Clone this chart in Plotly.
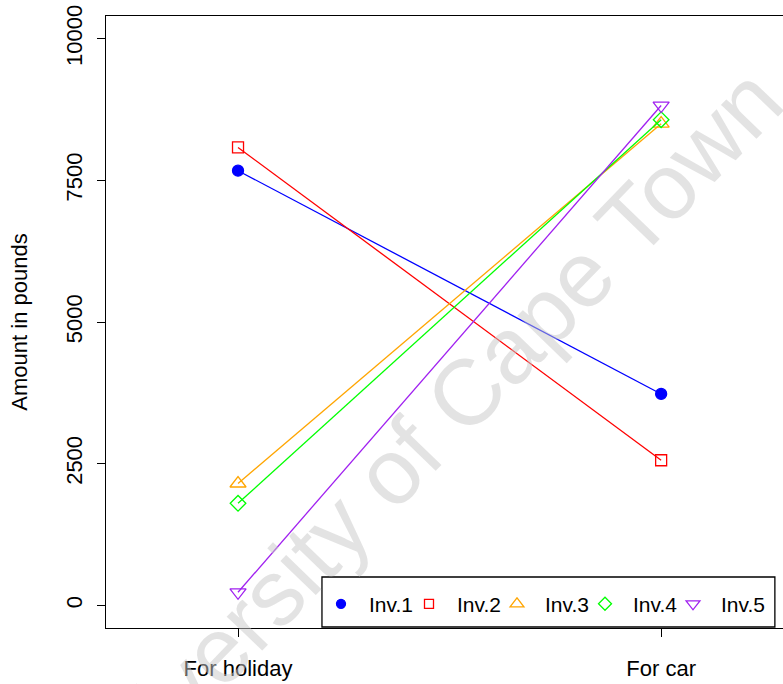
import plotly.graph_objects as go

# Spending categories on the x axis
categories = ["For holiday", "For car"]
cat_pos = [1, 2]

# Amounts (pounds) for each investor
inv1 = [7670, 3730]
inv2 = [8080, 2560]
inv3 = [2150, 8500]
inv4 = [1800, 8570]
inv5 = [230, 8820]

series_names = ["Inv.1", "Inv.2", "Inv.3", "Inv.4", "Inv.5"]
series_values = [inv1, inv2, inv3, inv4, inv5]
series_colors = ["#0000FF", "#FF0000", "#FFA500", "#00FF00", "#A020F0"]
series_symbols = ["circle", "square-open", "triangle-up-open", "diamond-open", "triangle-down-open"]
series_sizes = [11, 11, 14, 12, 14]

y_ticks = [0, 2500, 5000, 7500, 10000]

FONT = "Liberation Sans, Arial, Helvetica, sans-serif"

# plot area geometry in pixels (used to place the legend entries)
L_MARGIN, PLOT_W = 106, 677
ENTRY_START, ENTRY_STEP = 313, 88

fig = go.Figure()

legend_ids = ["legend"] + [f"legend{i}" for i in range(2, len(series_names) + 1)]

for name, vals, col, sym, sz, lid in zip(series_names, series_values, series_colors,
                                         series_symbols, series_sizes, legend_ids):
    fig.add_trace(go.Scatter(
        x=cat_pos, y=vals, mode="lines+markers", name=name,
        line=dict(color=col, width=1.3),
        marker=dict(symbol=sym, size=sz, color=col, line=dict(color=col, width=1.3)),
        showlegend=False, cliponaxis=False,
    ))
    # marker-only legend entry, one small legend per series
    fig.add_trace(go.Scatter(
        x=[None], y=[None], mode="markers", name=name, legend=lid,
        marker=dict(symbol=sym, size=sz - 2, color=col, line=dict(color=col, width=1.3)),
        showlegend=True,
    ))

# faint diagonal watermark
fig.add_annotation(
    text="University of Cape Town", xref="paper", yref="paper",
    x=0.460, y=0.300, xanchor="center", yanchor="middle",
    textangle=-46, showarrow=False,
    font=dict(family=FONT, size=93, color="rgba(200,200,200,0.5)"),
)

# legend frame
fig.add_shape(
    type="rect", xref="paper", yref="paper",
    x0=0.319, x1=0.988, y0=0.0016, y1=0.0833,
    line=dict(color="black", width=1.3), fillcolor="white", layer="above",
)

legend_layout = {}
for i, lid in enumerate(legend_ids):
    legend_layout[lid] = dict(
        orientation="h", xref="paper", yref="paper",
        x=(ENTRY_START + ENTRY_STEP * i - L_MARGIN) / PLOT_W, y=0.039,
        xanchor="left", yanchor="middle",
        bgcolor="rgba(0,0,0,0)", borderwidth=0,
        font=dict(size=21), itemwidth=46,
    )

fig.update_layout(
    width=783, height=684,
    margin=dict(l=L_MARGIN, r=0, t=16, b=56),
    paper_bgcolor="white", plot_bgcolor="white",
    font=dict(family=FONT, size=22, color="black"),
    xaxis=dict(
        range=[0.688, 2.288], tickmode="array", tickvals=cat_pos, ticktext=categories,
        showgrid=False, zeroline=False, showline=True, mirror=True,
        linecolor="black", linewidth=1.3, ticks="outside", ticklen=8,
        tickcolor="black", tickwidth=1.3, tickfont=dict(size=22),
        ticklabelstandoff=12,
    ),
    yaxis=dict(
        range=[-400, 10400], tickmode="array", tickvals=y_ticks,
        ticktext=[str(v) for v in y_ticks],
        showgrid=False, zeroline=False, showline=True,
        linecolor="black", linewidth=1.3, ticks="outside", ticklen=8,
        tickcolor="black", tickwidth=1.3, tickangle=-90, tickfont=dict(size=22),
        ticklabelstandoff=6,
        title=dict(text="Amount in pounds", font=dict(size=22), standoff=28),
    ),
    **legend_layout,
)

fig.write_html("out.html")
